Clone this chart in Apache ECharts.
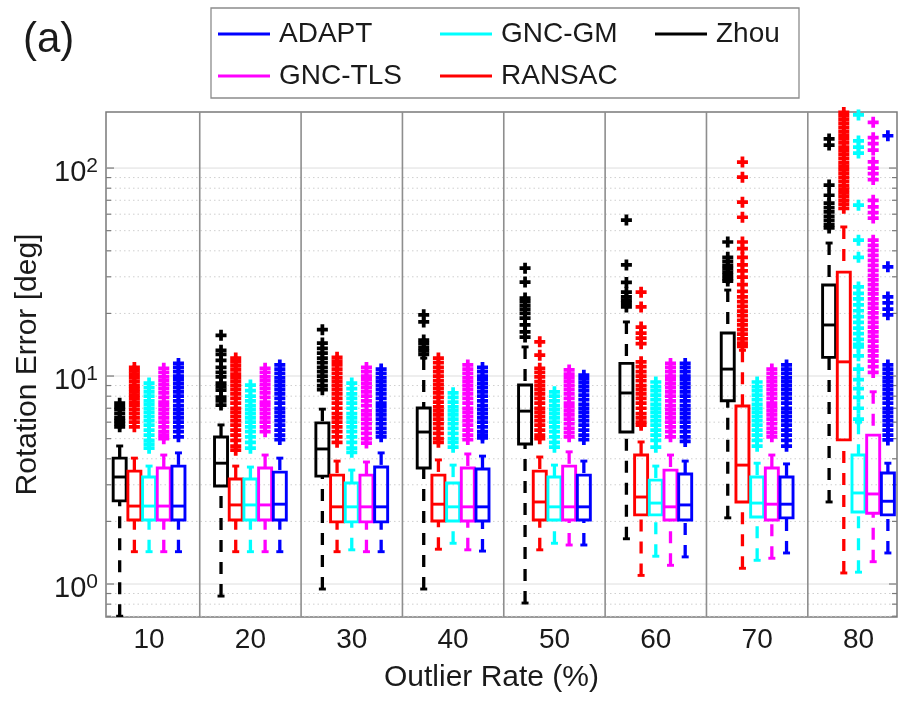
<!DOCTYPE html>
<html>
<head>
<meta charset="utf-8">
<script src="https://cdn.jsdelivr.net/npm/echarts@6/dist/echarts.min.js"></script>
<style>
  html, body { margin: 0; padding: 0; background: #ffffff; }
  #chart { width: 899px; height: 702px; }
</style>
</head>
<body>
<div id="chart"></div>
<script>
// Outlier rates (x groups)
const rateLabels = ['10', '20', '30', '40', '50', '60', '70', '80'];
const methodNames = ['Zhou', 'RANSAC', 'GNC-GM', 'GNC-TLS', 'ADAPT'];

// Box statistics per outlier rate: [lower whisker, Q1, median, Q3, upper whisker]
const zhouBoxes = [
  [0.70, 2.51, 3.27, 4.03, 4.61],
  [0.875, 2.96, 3.81, 5.09, 5.82],
  [0.946, 3.30, 4.46, 5.95, 6.93],
  [0.946, 3.61, 5.38, 7.02, 12.2],
  [0.81, 4.71, 6.78, 9.05, 13.8],
  [1.65, 5.38, 8.29, 11.5, 18.2],
  [2.08, 7.6, 10.8, 16.1, 25.9],
  [2.48, 12.3, 17.6, 27.4, 43.6]
];
const ransacBoxes = [
  [1.43, 2.03, 2.37, 3.49, 4.03],
  [1.43, 2.03, 2.40, 3.20, 3.69],
  [1.43, 1.99, 2.35, 3.34, 3.90],
  [1.47, 2.01, 2.42, 3.34, 3.95],
  [1.46, 2.03, 2.48, 3.49, 4.08],
  [1.10, 2.15, 2.62, 4.17, 4.82],
  [1.19, 2.48, 3.73, 7.18, 13.3],
  [1.13, 4.93, 11.7, 31.6, 52.1]
];
const gncGmBoxes = [
  [1.43, 2.03, 2.37, 3.27, 3.69],
  [1.43, 2.03, 2.40, 3.20, 3.65],
  [1.46, 1.99, 2.35, 3.06, 3.53],
  [1.57, 2.01, 2.35, 3.06, 3.73],
  [1.57, 2.03, 2.35, 3.27, 3.73],
  [1.36, 2.15, 2.45, 3.16, 3.69],
  [1.30, 2.10, 2.45, 3.27, 3.81],
  [1.14, 2.22, 2.74, 4.17, 6.0]
];
const gncTlsBoxes = [
  [1.43, 2.03, 2.37, 3.61, 4.17],
  [1.43, 2.03, 2.40, 3.61, 4.17],
  [1.43, 1.99, 2.35, 3.34, 3.86],
  [1.46, 2.01, 2.35, 3.61, 4.22],
  [1.54, 2.03, 2.35, 3.69, 4.32],
  [1.23, 2.03, 2.35, 3.53, 4.17],
  [1.33, 2.03, 2.42, 3.61, 4.17],
  [1.28, 2.19, 2.71, 5.20, 8.4]
];
const adaptBoxes = [
  [1.43, 2.03, 2.37, 3.69, 4.27],
  [1.43, 2.03, 2.42, 3.45, 4.03],
  [1.43, 1.99, 2.35, 3.65, 4.27],
  [1.44, 2.01, 2.35, 3.57, 4.12],
  [1.54, 2.03, 2.35, 3.34, 3.90],
  [1.35, 2.03, 2.40, 3.38, 3.90],
  [1.41, 2.08, 2.42, 3.27, 3.78],
  [1.41, 2.15, 2.50, 3.42, 3.81]
];

// Outliers per outlier rate
const zhouOutliers = [
  [7.4, 7.1, 6.9, 6.6, 6.3, 6.1, 5.9, 5.7],
  [15.7, 13.3, 12.7, 11.9, 11.0, 10.4, 9.9, 9.25, 8.9, 8.56, 7.92, 7.6, 7.25],
  [16.7, 14.4, 13.6, 12.9, 12.2, 11.6, 11.0, 10.5, 10.0, 9.5, 9.0, 8.6],
  [19.7, 18.2, 14.9, 14.3, 13.7, 13.2, 12.7],
  [33.0, 28.3, 23.7, 22.8, 21.8, 20.9, 20.0, 19.0, 17.6, 16.3, 15.4],
  [56.2, 34.2, 28.2, 25.3, 24.0, 23.2, 22.4, 21.5],
  [44.1, 37.2, 35.6, 34.0, 32.8, 31.6, 30.5, 29.4, 28.6],
  [138, 129, 82.8, 74.0, 67.8, 64.5, 61.5, 58.6, 56.0, 53.5, 51.5]
];
const ransacOutliers = [
  [11.0, 10.6, 10.2, 9.8, 9.4, 9.0, 8.7, 8.4, 8.1, 7.8, 7.5, 7.2, 6.9, 6.6, 6.3, 6.0, 5.7],
  [12.2, 11.7, 11.2, 10.7, 10.2, 9.8, 9.4, 9.0, 8.6, 8.2, 7.8, 7.4, 7.0, 6.7, 6.4, 6.1, 5.8, 5.5, 5.2, 4.9, 4.6, 4.4],
  [12.3, 11.8, 11.3, 10.8, 10.3, 9.8, 9.4, 9.0, 8.6, 8.2, 7.8, 7.4, 7.0, 6.6, 6.3, 6.0, 5.7, 5.4, 5.1, 4.8],
  [12.2, 11.6, 11.0, 10.5, 10.0, 9.5, 9.1, 8.7, 8.3, 7.9, 7.5, 7.1, 6.8, 6.5, 6.2, 5.9, 5.6, 5.3, 5.0, 4.8],
  [14.6, 12.6, 10.9, 10.4, 9.9, 9.4, 9.0, 8.6, 8.2, 7.8, 7.4, 7.0, 6.7, 6.4, 6.1, 5.8, 5.5, 5.2, 5.0],
  [25.3, 21.5, 17.2, 16.1, 15.2, 14.3, 11.7, 11.1, 10.5, 10.0, 9.5, 9.0, 8.6, 8.2, 7.8, 7.4, 7.0, 6.6, 6.3, 6.0, 5.8],
  [106.9, 90.4, 68.5, 58.0, 44.1, 41.0, 37.2, 34.2, 32.0, 29.9, 27.5, 25.5, 24.0, 22.8, 21.6, 20.5, 19.5, 18.5, 17.6, 16.7, 15.9, 15.1, 14.4, 13.9],
  [185, 178, 171, 164, 157, 150, 144, 138, 132, 126, 121, 116, 111, 106, 102, 98, 94, 90, 86, 82, 79, 76, 73, 70, 67, 64]
];
const gncGmOutliers = [
  [9.25, 8.8, 8.4, 8.0, 7.6, 7.3, 7.0, 6.7, 6.4, 6.1, 5.8, 5.5, 5.2, 4.9, 4.7, 4.5],
  [9.05, 8.5, 8.0, 7.6, 7.2, 6.9, 6.6, 6.3, 6.0, 5.7, 5.4, 5.1, 4.8, 4.5],
  [9.25, 8.7, 8.2, 7.8, 7.4, 7.0, 6.6, 6.3, 6.0, 5.7, 5.4, 5.1, 4.8, 4.5, 4.3],
  [8.3, 7.9, 7.5, 7.1, 6.8, 6.5, 6.2, 5.9, 5.6, 5.3, 5.0, 4.8, 4.55],
  [8.4, 8.0, 7.6, 7.2, 6.9, 6.6, 6.3, 6.0, 5.7, 5.4, 5.1, 4.8, 4.55],
  [9.36, 8.9, 8.5, 8.1, 7.7, 7.3, 7.0, 6.7, 6.4, 6.1, 5.8, 5.5, 5.2, 4.9, 4.55],
  [9.36, 8.9, 8.5, 8.1, 7.7, 7.3, 7.0, 6.7, 6.4, 6.1, 5.8, 5.5, 5.2, 4.9, 4.6],
  [180, 135, 126, 118, 66.3, 45.0, 37.2, 26.8, 25.0, 23.5, 22.0, 20.6, 19.3, 18.1, 17.0, 16.0, 15.0, 14.2, 13.8, 12.5, 10.8, 9.6, 8.7, 7.9, 7.0, 6.2]
];
const gncTlsOutliers = [
  [10.9, 10.4, 9.9, 9.5, 9.1, 8.7, 8.3, 7.9, 7.5, 7.2, 6.9, 6.6, 6.3, 6.0, 5.7, 5.4, 5.2, 5.0],
  [10.9, 10.4, 9.9, 9.5, 9.1, 8.7, 8.3, 7.9, 7.5, 7.2, 6.9, 6.6, 6.3, 6.0, 5.7, 5.4],
  [11.0, 10.5, 10.0, 9.6, 9.2, 8.8, 8.4, 8.0, 7.6, 7.2, 6.8, 6.5, 6.2, 5.9, 5.6, 5.3, 5.0, 4.76],
  [11.3, 10.8, 10.3, 9.8, 9.4, 9.0, 8.6, 8.2, 7.8, 7.4, 7.0, 6.7, 6.4, 6.1, 5.8, 5.5, 5.2, 4.95],
  [10.7, 10.2, 9.8, 9.4, 9.0, 8.6, 8.2, 7.8, 7.4, 7.1, 6.8, 6.5, 6.2, 5.9, 5.6, 5.35, 5.1],
  [11.5, 11.0, 10.5, 10.0, 9.6, 9.2, 8.8, 8.4, 8.0, 7.6, 7.2, 6.9, 6.6, 6.3, 6.0, 5.7, 5.4, 5.1],
  [10.8, 10.3, 9.8, 9.4, 9.0, 8.6, 8.2, 7.8, 7.4, 7.1, 6.8, 6.5, 6.2, 5.9, 5.6, 5.35, 5.1],
  [166, 140, 131, 122, 107, 100, 94, 88, 70, 65, 61, 57.5, 45, 42.5, 40.2, 38, 36, 34, 32.2, 30.5, 29, 27.5, 26.1, 24.8, 23.5, 22.3, 21.2, 20.1, 19.1, 18.1, 17.2, 16.3, 15.5, 14.7, 13.9, 13.2, 12.5, 11.8, 11.1, 10.4]
];
const adaptOutliers = [
  [11.5, 11.0, 10.5, 10.0, 9.6, 9.2, 8.8, 8.4, 8.0, 7.6, 7.2, 6.9, 6.6, 6.3, 6.0, 5.7, 5.4, 5.1],
  [11.3, 10.8, 10.3, 9.8, 9.4, 9.0, 8.6, 8.2, 7.8, 7.4, 7.0, 6.7, 6.4, 6.1, 5.8, 5.5, 5.2, 4.95],
  [10.8, 10.3, 9.8, 9.4, 9.0, 8.6, 8.2, 7.8, 7.4, 7.1, 6.8, 6.5, 6.2, 5.9, 5.6, 5.35, 5.1],
  [11.0, 10.5, 10.0, 9.6, 9.2, 8.8, 8.4, 8.0, 7.6, 7.2, 6.9, 6.6, 6.3, 6.0, 5.7, 5.4, 5.2, 5.04],
  [10.1, 9.7, 9.3, 8.9, 8.5, 8.1, 7.7, 7.3, 7.0, 6.7, 6.4, 6.1, 5.8, 5.5, 5.2, 4.95],
  [11.5, 11.0, 10.5, 10.0, 9.6, 9.2, 8.8, 8.4, 8.0, 7.6, 7.2, 6.9, 6.6, 6.3, 6.0, 5.7, 5.4, 5.1, 4.85],
  [11.3, 10.8, 10.3, 9.8, 9.4, 9.0, 8.6, 8.2, 7.8, 7.4, 7.0, 6.7, 6.4, 6.1, 5.8, 5.5, 5.2, 4.9, 4.6],
  [143, 33.5, 24.0, 22.5, 21.0, 19.7, 11.3, 10.8, 10.3, 9.8, 9.4, 9.0, 8.6, 8.2, 7.8, 7.4, 7.0, 6.7, 6.4, 6.1, 5.8, 5.5, 5.2, 4.93]
];

// Y axis ticks (log scale)
const majorTicks = [1, 10, 100];
const minorTicks = [0.7, 0.8, 0.9, 2, 3, 4, 5, 6, 7, 8, 9, 20, 30, 40, 50, 60, 70, 80, 90];

// ---------------------------------------------------------------------------
const FONT = '"Liberation Sans", Arial, Helvetica, sans-serif';
const TEXT_COLOR = '#1a1a1a';
const FRAME_COLOR = '#7a7a7a';

const methods = [
  { name: 'Zhou',    color: '#000000', boxes: zhouBoxes,   outliers: zhouOutliers },
  { name: 'RANSAC',  color: '#ff0000', boxes: ransacBoxes, outliers: ransacOutliers },
  { name: 'GNC-GM',  color: '#00ffff', boxes: gncGmBoxes,  outliers: gncGmOutliers },
  { name: 'GNC-TLS', color: '#ff00ff', boxes: gncTlsBoxes, outliers: gncTlsOutliers },
  { name: 'ADAPT',   color: '#0000ff', boxes: adaptBoxes,  outliers: adaptOutliers }
];
const slotWidth = 0.145;   // spacing between boxes within a group (x units)
const BOX_HALF = 6.5;      // px
const CAP_HALF = 3.5;      // px
const LW = 2.9;

function slotX(groupIndex, methodIndex) {
  return groupIndex + 1 + (methodIndex - (methods.length - 1) / 2) * slotWidth;
}

function renderBox(params, api) {
  const x = api.value(0);
  const pLo = api.coord([x, api.value(1)]);
  const pQ1 = api.coord([x, api.value(2)]);
  const pMed = api.coord([x, api.value(3)]);
  const pQ3 = api.coord([x, api.value(4)]);
  const pHi = api.coord([x, api.value(5)]);
  const color = api.visual('color');
  const cx = pQ1[0];
  const solid = { stroke: color, lineWidth: LW, fill: null, lineCap: 'butt' };
  const dashed = { stroke: color, lineWidth: LW + 0.4, lineDash: [12, 10], lineCap: 'butt' };
  return {
    type: 'group',
    children: [
      { type: 'line', shape: { x1: cx, y1: pLo[1], x2: cx, y2: pQ1[1] }, style: dashed },
      { type: 'line', shape: { x1: cx, y1: pHi[1], x2: cx, y2: pQ3[1] }, style: dashed },
      { type: 'line', shape: { x1: cx - CAP_HALF, y1: pLo[1], x2: cx + CAP_HALF, y2: pLo[1] }, style: solid },
      { type: 'line', shape: { x1: cx - CAP_HALF, y1: pHi[1], x2: cx + CAP_HALF, y2: pHi[1] }, style: solid },
      { type: 'rect', shape: { x: cx - BOX_HALF, y: pQ3[1], width: BOX_HALF * 2, height: pQ1[1] - pQ3[1] }, style: solid },
      { type: 'line', shape: { x1: cx - BOX_HALF, y1: pMed[1], x2: cx + BOX_HALF, y2: pMed[1] }, style: solid }
    ]
  };
}

// Horizontal grid lines and inward ticks on both vertical axes
function renderGrid(params, api) {
  const cs = params.coordSys;
  const y = api.coord([1, api.value(1)])[1];
  const major = api.value(2) === 1;
  const tick = major ? 8 : 5;
  return {
    type: 'group',
    children: [
      { type: 'line', shape: { x1: cs.x, y1: y, x2: cs.x + cs.width, y2: y },
        style: major ? { stroke: '#dedede', lineWidth: 1 } : { stroke: '#cfcfcf', lineWidth: 1, lineDash: [1.5, 3] } },
      { type: 'line', shape: { x1: cs.x, y1: y, x2: cs.x + tick, y2: y }, style: { stroke: FRAME_COLOR, lineWidth: 1.2 } },
      { type: 'line', shape: { x1: cs.x + cs.width - tick, y1: y, x2: cs.x + cs.width, y2: y }, style: { stroke: FRAME_COLOR, lineWidth: 1.2 } }
    ]
  };
}

// Vertical separators between outlier-rate groups
function renderSeparator(params, api) {
  const cs = params.coordSys;
  const x = api.coord([api.value(0), 1])[0];
  return {
    type: 'line',
    shape: { x1: x, y1: cs.y, x2: x, y2: cs.y + cs.height },
    style: { stroke: '#8e8e8e', lineWidth: 1.6 }
  };
}

const gridData = majorTicks.map(v => [1, v, 1]).concat(minorTicks.map(v => [1, v, 0]));
const separatorData = rateLabels.slice(1).map((_, i) => [i + 1.5, 1]);

const series = [
  { type: 'custom', renderItem: renderGrid, data: gridData, encode: { x: 0, y: 1 }, silent: true, z: 0, clip: false },
  { type: 'custom', renderItem: renderSeparator, data: separatorData, encode: { x: 0, y: 1 }, silent: true, z: 1, clip: false }
];

methods.forEach((m, mi) => {
  series.push({
    name: m.name,
    type: 'custom',
    renderItem: renderBox,
    itemStyle: { color: m.color },
    encode: { x: 0, y: [1, 2, 3, 4, 5] },
    data: m.boxes.map((b, gi) => [slotX(gi, mi)].concat(b)),
    clip: true,
    z: 3
  });
  const pts = [];
  m.outliers.forEach((list, gi) => list.forEach(v => pts.push([slotX(gi, mi), v])));
  series.push({
    name: m.name,
    type: 'scatter',
    symbol: 'path://M3.3,0H6.7V3.3H10V6.7H6.7V10H3.3V6.7H0V3.3H3.3Z',
    symbolSize: 11,
    itemStyle: { color: m.color, opacity: 1 },
    data: pts,
    clip: true,
    z: 4
  });
});

// Legend entries laid out in a fixed 3-column grid
const legendSlots = [
  { name: 'ADAPT',   left: 218, top: 20 },
  { name: 'GNC-GM',  left: 440, top: 20 },
  { name: 'Zhou',    left: 655, top: 20 },
  { name: 'GNC-TLS', left: 218, top: 62 },
  { name: 'RANSAC',  left: 440, top: 62 }
];
const legends = legendSlots.map(s => ({
  data: [s.name],
  left: s.left,
  top: s.top,
  padding: 0,
  icon: 'rect',
  itemWidth: 52,
  itemHeight: 3,
  selectedMode: false,
  textStyle: { fontFamily: FONT, fontSize: 28, color: TEXT_COLOR, padding: [0, 0, 0, 4] }
}));

const chart = echarts.init(document.getElementById('chart'), null, { renderer: 'canvas' });
chart.setOption({
  animation: false,
  backgroundColor: '#ffffff',
  title: {
    text: '(a)', left: 18, top: 14,
    textStyle: { fontFamily: FONT, fontSize: 42, fontWeight: 'normal', color: TEXT_COLOR }
  },
  legend: legends,
  graphic: [{
    type: 'rect', silent: true, z: -1,
    shape: { x: 211, y: 8, width: 588, height: 90 },
    style: { fill: '#ffffff', stroke: '#8c8c8c', lineWidth: 1.3 }
  }],
  grid: {
    left: 106, right: 2, top: 112, bottom: 85,
    show: true, borderColor: FRAME_COLOR, borderWidth: 1.5, backgroundColor: 'transparent'
  },
  xAxis: {
    type: 'value',
    min: 0.575, max: 8.38,
    axisLine: { show: false },
    axisTick: { show: false },
    splitLine: { show: false },
    axisLabel: {
      customValues: rateLabels.map((_, i) => i + 1),
      formatter: v => rateLabels[Math.round(v) - 1] || '',
      fontFamily: FONT, fontSize: 28, color: TEXT_COLOR, margin: 9
    },
    name: 'Outlier Rate (%)',
    nameLocation: 'middle',
    nameGap: 46,
    nameTextStyle: { fontFamily: FONT, fontSize: 30, color: TEXT_COLOR, padding: [0, 20, 0, 0] }
  },
  yAxis: {
    type: 'log',
    logBase: 10,
    min: 0.694, max: 186,
    axisLine: { show: false },
    axisTick: { show: false },
    splitLine: { show: false },
    minorTick: { show: false },
    axisLabel: {
      fontFamily: FONT,
      color: TEXT_COLOR,
      margin: 8,
      padding: [10, 0, 0, 0],
      formatter: v => {
        const lg = Math.log10(v);
        const e = Math.round(lg);
        if (Math.abs(lg - e) > 1e-6) return '';
        return '{b|10}{s|' + e + '}';
      },
      rich: {
        b: { fontFamily: FONT, fontSize: 29, lineHeight: 34, color: TEXT_COLOR },
        s: { fontFamily: FONT, fontSize: 21, lineHeight: 14, verticalAlign: 'top', color: TEXT_COLOR }
      }
    },
    name: 'Rotation Error [deg]',
    nameLocation: 'middle',
    nameGap: 62,
    nameTextStyle: { fontFamily: FONT, fontSize: 30, color: TEXT_COLOR }
  },
  series: series
});
</script>
</body>
</html>
